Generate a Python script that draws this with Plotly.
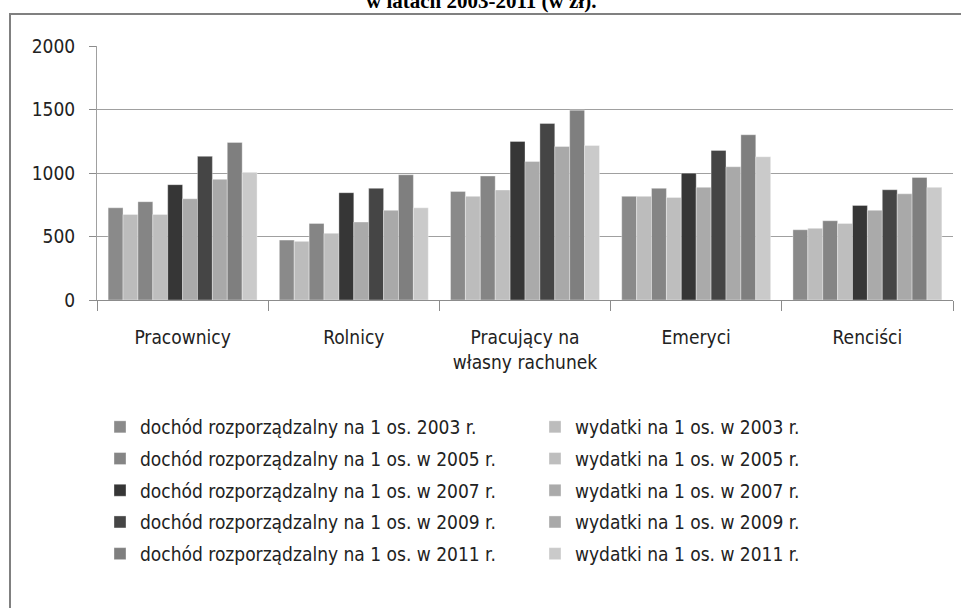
import plotly.graph_objects as go

categories = ["Pracownicy", "Rolnicy", "Pracujący na<br>własny rachunek", "Emeryci", "Renciści"]

dochod_2003 = [726, 472, 855, 816, 553]
wydatki_2003 = [674, 462, 816, 816, 564]
dochod_2005 = [774, 603, 976, 879, 624]
wydatki_2005 = [674, 525, 866, 808, 603]
dochod_2007 = [908, 845, 1249, 999, 745]
wydatki_2007 = [797, 614, 1091, 887, 706]
dochod_2009 = [1131, 879, 1390, 1178, 868]
wydatki_2009 = [950, 706, 1209, 1049, 836]
dochod_2011 = [1241, 986, 1495, 1301, 965]
wydatki_2011 = [1005, 726, 1217, 1128, 887]

series = [
    ("dochód rozporządzalny na 1 os. 2003 r.", dochod_2003, "#8a8a8a", "legend"),
    ("wydatki na 1 os. w 2003 r.", wydatki_2003, "#bcbcbc", "legend2"),
    ("dochód rozporządzalny na 1 os. w 2005 r.", dochod_2005, "#858585", "legend"),
    ("wydatki na 1 os. w 2005 r.", wydatki_2005, "#bebebe", "legend2"),
    ("dochód rozporządzalny na 1 os. w 2007 r.", dochod_2007, "#363636", "legend"),
    ("wydatki na 1 os. w 2007 r.", wydatki_2007, "#aaaaaa", "legend2"),
    ("dochód rozporządzalny na 1 os. w 2009 r.", dochod_2009, "#454545", "legend"),
    ("wydatki na 1 os. w 2009 r.", wydatki_2009, "#a9a9a9", "legend2"),
    ("dochód rozporządzalny na 1 os. w 2011 r.", dochod_2011, "#7f7f7f", "legend"),
    ("wydatki na 1 os. w 2011 r.", wydatki_2011, "#cacaca", "legend2"),
]

FONT = "Liberation Sans Narrow, DejaVu Sans Condensed, Arial Narrow, sans-serif"

W, H = 961, 608
L, R, T, B = 97, 8, 46, 308
pw, ph = W - L - R, H - T - B

def px(x):
    return (x - L) / pw

def py(y):
    return (H - B - y) / ph

fig = go.Figure()
for i, (name, vals, col, lg) in enumerate(series):
    fig.add_trace(go.Bar(
        x=categories, y=vals, name=name,
        marker=dict(color=col, line=dict(color="rgba(255,255,255,0.35)", width=1)),
        legend=lg, legendgroup=f"g{i}",
    ))

fig.update_layout(
    width=W, height=H,
    margin=dict(l=L, r=R, t=T, b=B),
    paper_bgcolor="white", plot_bgcolor="white",
    barmode="group", bargap=0.13, bargroupgap=0,
    font=dict(family=FONT, size=19, color="#222222"),
    showlegend=True,
    legend=dict(x=px(100), y=py(408), xanchor="left", yanchor="top",
                orientation="v", tracegroupgap=4, font=dict(size=19),
                bgcolor="rgba(0,0,0,0)", itemclick=False),
    legend2=dict(x=px(535), y=py(408), xanchor="left", yanchor="top",
                 orientation="v", tracegroupgap=4, font=dict(size=19),
                 bgcolor="rgba(0,0,0,0)", itemclick=False),
    xaxis=dict(
        showline=True, linecolor="#8c8c8c", linewidth=1,
        tickson="boundaries", ticks="outside", ticklen=10, tickcolor="#8c8c8c",
        tickfont=dict(size=19, color="#222222"), showgrid=False,
        ticklabelstandoff=20,
    ),
    yaxis=dict(
        range=[0, 2000], tickvals=[0, 500, 1000, 1500, 2000],
        showline=True, linecolor="#a0a0a0", linewidth=1,
        ticks="outside", ticklen=7, tickcolor="#8c8c8c",
        showgrid=True, gridcolor="#a0a0a0", gridwidth=1,
        zeroline=False, tickfont=dict(size=19, color="#222222"),
        ticklabelstandoff=10,
    ),
    shapes=[dict(type="rect", xref="paper", yref="paper",
                 x0=px(10), x1=px(975), y0=py(14), y1=py(625),
                 line=dict(color="#808080", width=2), fillcolor="rgba(0,0,0,0)",
                 layer="below")],
    annotations=[dict(text="<b>w latach 2003-2011 (w zł).</b>", xref="paper", yref="paper",
                      x=px(481), y=py(1), xanchor="center", yanchor="middle",
                      showarrow=False,
                      font=dict(family="Liberation Serif, Times New Roman, serif", size=21, color="#000000"))],
)

fig.write_html("out.html", config={"displayModeBar": False},
               post_script="document.body.style.margin='0';")
